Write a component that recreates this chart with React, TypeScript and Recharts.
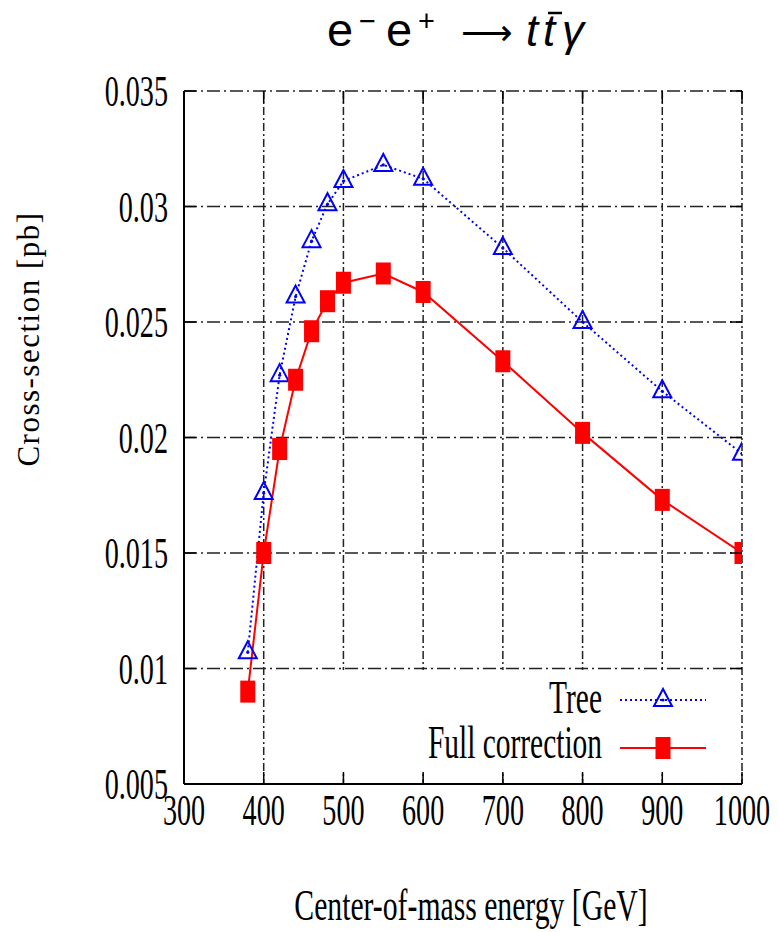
import React from 'react';
import { CartesianGrid, Legend, Line, LineChart, XAxis, YAxis } from 'recharts';

// e- e+ -> t tbar gamma cross-section vs. centre-of-mass energy
const energy = [380, 400, 420, 440, 460, 480, 500, 550, 600, 700, 800, 900, 1000];
const treeXs = [0.0107, 0.0176, 0.0227, 0.0261, 0.0285, 0.0301, 0.0311, 0.0318, 0.0312, 0.0282, 0.025, 0.022, 0.0193];
const fullXs = [0.009, 0.015, 0.0195, 0.0225, 0.0246, 0.0259, 0.0267, 0.0271, 0.0263, 0.0233, 0.0202, 0.0173, 0.015];

const xTicks = [300, 400, 500, 600, 700, 800, 900, 1000];
const yTicks = [0.005, 0.01, 0.015, 0.02, 0.025, 0.03, 0.035];
const yTickLabels = ['0.005', '0.01', '0.015', '0.02', '0.025', '0.03', '0.035'];

const data = energy.map((e, i) => ({ e, tree: treeXs[i], full: fullXs[i] }));

const W = 771;
const H = 924;
const PLOT_W = 558;
const PLOT_H = 693;
const SERIF = '"Liberation Serif", "DejaVu Serif", serif';
const SANS = '"Liberation Sans", Arial, sans-serif';
const BLUE = '#0000ff';
const RED = '#ff0000';
// gnuplot-style tall, narrow lettering
const SQUEEZE = 0.64;

const XTick = ({ x, y, payload }: any) => (
  <g>
    <line x1={x} y1={y} x2={x} y2={y - 12} stroke="#000" strokeWidth={1.5} />
    <line x1={x} y1={y - PLOT_H} x2={x} y2={y - PLOT_H + 12} stroke="#000" strokeWidth={1.5} />
    <text
      transform={`translate(${x},${y + 41}) scale(${SQUEEZE},1)`}
      textAnchor="middle"
      fontFamily={SERIF}
      fontSize={44}
      fill="#000"
    >
      {payload.value}
    </text>
  </g>
);

const YTick = ({ x, y, payload, index }: any) => (
  <g>
    <line x1={x} y1={y} x2={x + 12} y2={y} stroke="#000" strokeWidth={1.5} />
    <line x1={x + PLOT_W} y1={y} x2={x + PLOT_W - 12} y2={y} stroke="#000" strokeWidth={1.5} />
    <text
      transform={`translate(${x - 16},${y + 15}) scale(${SQUEEZE},1)`}
      textAnchor="end"
      fontFamily={SERIF}
      fontSize={44}
      fill="#000"
    >
      {yTickLabels[index] ?? payload.value}
    </text>
  </g>
);

const TriangleDot = ({ cx, cy, key }: any) => (
  <g key={key}>
    <polygon
      points={`${cx},${cy - 11} ${cx - 9},${cy + 6} ${cx + 9},${cy + 6}`}
      fill="none"
      stroke={BLUE}
      strokeWidth={2}
    />
    <circle cx={cx} cy={cy} r={1.6} fill={BLUE} />
  </g>
);

const SquareDot = ({ cx, cy, key }: any) => (
  <rect key={key} x={cx - 7.5} y={cy - 11} width={15} height={22} fill={RED} />
);

// process title, laid out in page coordinates above the plot
const Title = () => (
  <svg
    width={779}
    height={72}
    style={{ position: 'absolute', left: -8, top: -8, overflow: 'visible', pointerEvents: 'none' }}
  >
    <g fontFamily={SANS} fill="#000">
      <text x={327} y={46} fontSize={47}>e</text>
      <text x={359} y={31} fontSize={29}>−</text>
      <text x={386} y={46} fontSize={47}>e</text>
      <text x={418} y={31} fontSize={29}>+</text>
      <text x={461} y={45} fontSize={36} fontFamily='"DejaVu Sans", sans-serif'>⟶</text>
      <text x={526} y={46} fontSize={44} fontStyle="italic">t</text>
      <text x={543} y={46} fontSize={44} fontStyle="italic">t</text>
      <line x1={548} y1={13} x2={562} y2={13} stroke="#000" strokeWidth={2.5} />
      <text x={562} y={46} fontSize={44} fontStyle="italic">γ</text>
    </g>
  </svg>
);

const XTitle = () => (
  <text
    transform="translate(463,912) scale(0.66,1)"
    textAnchor="middle"
    fontFamily={SERIF}
    fontSize={45}
    fill="#000"
  >
    Center-of-mass energy [GeV]
  </text>
);

const YTitle = () => (
  <text
    transform="translate(31,331) rotate(-90)"
    textAnchor="middle"
    fontFamily={SERIF}
    fontSize={31}
    letterSpacing={1.5}
    fill="#000"
  >
    Cross-section [pb]
  </text>
);

const LegendBox = () => (
  <svg width={440} height={102} style={{ display: 'block', background: '#fff' }}>
    <text transform={`translate(302,43) scale(${SQUEEZE},1)`} textAnchor="end" fontFamily={SERIF} fontSize={46} fill="#000">
      Tree
    </text>
    <line x1={320} y1={30} x2={406} y2={30} stroke={BLUE} strokeWidth={2} strokeDasharray="2 3" />
    <TriangleDot cx={363} cy={30} />
    <text transform={`translate(302,88) scale(${SQUEEZE},1)`} textAnchor="end" fontFamily={SERIF} fontSize={46} fill="#000">
      Full correction
    </text>
    <line x1={320} y1={78} x2={406} y2={78} stroke={RED} strokeWidth={2} />
    <SquareDot cx={363} cy={78} />
  </svg>
);

export default function App() {
  return (
    <div style={{ position: 'relative', width: W, height: H }}>
      <LineChart width={W} height={H} data={data} margin={{ top: 83, right: 37, bottom: 48, left: 76 }}>
        <CartesianGrid stroke="#222" strokeWidth={1.5} strokeDasharray="13 4 2 4" vertical={false} />
        <CartesianGrid stroke="#222" strokeWidth={1.5} strokeDasharray="8 3 2 3" horizontal={false} />
        <XAxis
          dataKey="e"
          type="number"
          domain={[300, 1000]}
          ticks={xTicks}
          allowDataOverflow
          height={100}
          tickSize={0}
          tickMargin={0}
          tickLine={false}
          tick={<XTick />}
          axisLine={{ stroke: '#000', strokeWidth: 2 }}
          label={{ content: () => <XTitle /> }}
        />
        <XAxis
          xAxisId="top"
          dataKey="e"
          type="number"
          domain={[300, 1000]}
          orientation="top"
          height={0}
          tick={false}
          tickLine={false}
          axisLine={{ stroke: '#000', strokeWidth: 2 }}
        />
        <YAxis
          type="number"
          domain={[0.005, 0.035]}
          ticks={yTicks}
          allowDataOverflow
          width={100}
          tickSize={0}
          tickMargin={0}
          tickLine={false}
          tick={<YTick />}
          axisLine={{ stroke: '#000', strokeWidth: 2 }}
          label={{ content: () => <YTitle /> }}
        />
        <YAxis
          yAxisId="right"
          orientation="right"
          type="number"
          domain={[0.005, 0.035]}
          width={0}
          tick={false}
          tickLine={false}
          axisLine={{ stroke: '#000', strokeWidth: 2 }}
        />
        <Line
          dataKey="tree"
          name="Tree"
          stroke={BLUE}
          strokeWidth={2}
          strokeDasharray="2 3"
          dot={TriangleDot}
          activeDot={false}
          isAnimationActive={false}
        />
        <Line
          dataKey="full"
          name="Full correction"
          stroke={RED}
          strokeWidth={2}
          dot={SquareDot}
          activeDot={false}
          isAnimationActive={false}
        />
        <Legend
          layout="horizontal"
          verticalAlign="middle"
          align="center"
          content={LegendBox}
          wrapperStyle={{ position: 'absolute', left: 292, top: 662, width: 440, height: 102 }}
        />
      </LineChart>
      <Title />
    </div>
  );
}
